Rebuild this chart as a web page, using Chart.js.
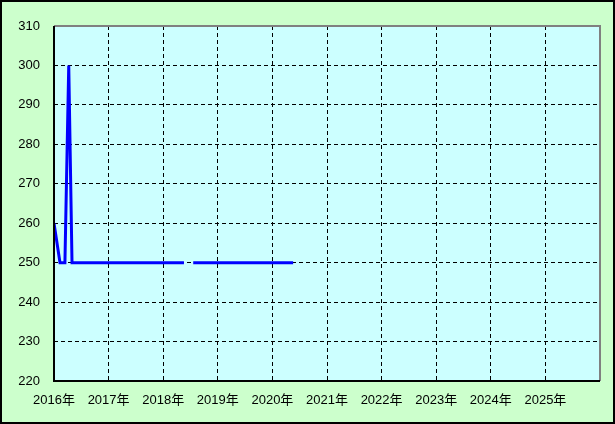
<!DOCTYPE html>
<html>
<head>
<meta charset="utf-8">
<script src="https://cdn.jsdelivr.net/npm/chart.js@4"></script>
<style>
  html, body { margin: 0; padding: 0; background: #ccffcc; }
  canvas { display: block; }
</style>
</head>
<body>
<canvas id="chart" width="615" height="424"></canvas>
<script>
// decimal years and values
const years = [2016.0, 2016.11, 2016.2, 2016.27, 2016.33, 2018.38, 2018.46, 2018.55, 2020.38];
const values = [260, 250, 250, 300, 250, 250, null, 250, 250];
const yTicks = [220, 230, 240, 250, 260, 270, 280, 290, 300, 310];
const xTicks = [2016, 2017, 2018, 2019, 2020, 2021, 2022, 2023, 2024, 2025, 2026];

const points = years.map((x, i) => ({ x: x, y: values[i] }));

const frame = {
    id: 'frame',
    beforeDraw(chart) {
        const c = chart.ctx, a = chart.chartArea;
        c.save();
        c.fillStyle = '#ccffcc';
        c.fillRect(0, 0, chart.width, chart.height);
        c.fillStyle = '#ccffff';
        c.fillRect(a.left, a.top, a.right - a.left, a.bottom - a.top);
        c.restore();
    },
    afterDraw(chart) {
        const c = chart.ctx, a = chart.chartArea;
        c.save();
        c.strokeStyle = '#808080';
        c.lineWidth = 2;
        c.beginPath();
        c.moveTo(a.left, a.top);
        c.lineTo(a.right, a.top);
        c.lineTo(a.right, a.bottom);
        c.stroke();
        c.strokeStyle = '#000';
        c.lineWidth = 2;
        c.beginPath();
        c.moveTo(a.left, a.top);
        c.lineTo(a.left, a.bottom);
        c.lineTo(a.right, a.bottom);
        c.stroke();
        c.strokeRect(1, 1, chart.width - 2, chart.height - 2);
        c.restore();
    }
};

const font = { family: "'Liberation Sans', 'Noto Sans CJK JP', sans-serif", size: 13 };

new Chart(document.getElementById('chart'), {
    type: 'line',
    data: {
        datasets: [{
            data: points,
            borderColor: '#0000ff',
            borderWidth: 3,
            pointRadius: 0,
            tension: 0,
            spanGaps: false,
            fill: false
        }]
    },
    options: {
        responsive: false,
        animation: false,
        layout: { padding: { top: 26, right: 15, left: 0, bottom: 0 } },
        plugins: { legend: { display: false }, tooltip: { enabled: false } },
        scales: {
            x: {
                type: 'linear',
                min: 2016,
                max: 2026,
                afterBuildTicks: axis => { axis.ticks = xTicks.map(v => ({ value: v })); },
                afterFit: axis => { axis.height = 43; },
                ticks: {
                    color: '#000',
                    font: font,
                    padding: 12,
                    maxRotation: 0,
                    autoSkip: false,
                    callback: v => v === 2026 ? '' : v + '年'
                },
                grid: {
                    color: ctx => (ctx.tick && (ctx.tick.value === 2026 || ctx.tick.value === 2016)) ? 'rgba(0,0,0,0)' : '#000',
                    lineWidth: 1,
                    drawTicks: false
                },
                border: { display: false, dash: [4, 3] }
            },
            y: {
                min: 220,
                max: 310,
                afterBuildTicks: axis => { axis.ticks = yTicks.map(v => ({ value: v })); },
                afterFit: axis => { axis.width = 54; },
                ticks: { color: '#000', font: font, padding: 14, autoSkip: false },
                grid: {
                    color: ctx => (ctx.tick && (ctx.tick.value === 310 || ctx.tick.value === 220)) ? 'rgba(0,0,0,0)' : '#000',
                    lineWidth: 1,
                    drawTicks: false
                },
                border: { display: false, dash: [4, 3] }
            }
        }
    },
    plugins: [frame]
});
</script>
</body>
</html>
